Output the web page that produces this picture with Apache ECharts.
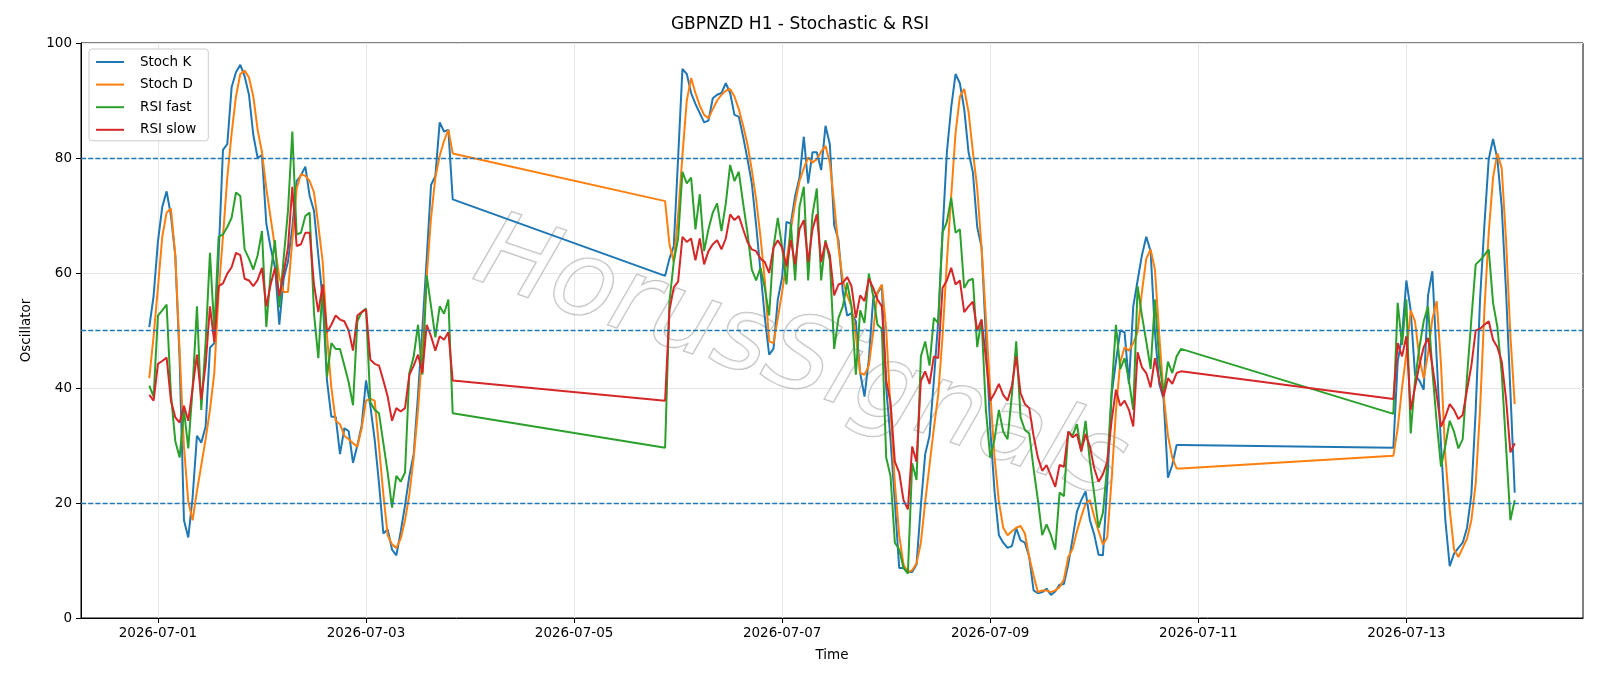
<!DOCTYPE html>
<html>
<head>
<meta charset="utf-8">
<title>GBPNZD H1 - Stochastic & RSI</title>
<script src="https://cdn.jsdelivr.net/npm/echarts@6/dist/echarts.min.js"></script>
<style>
  html, body { margin: 0; padding: 0; background: #fff; }
  #chart { width: 1600px; height: 686px; }
</style>
</head>
<body>
<div id="chart"></div>
<script>
// hourly bars, three trading blocks (weekend gaps between them)
const blockStarts = ['2026-06-30T22:00', '2026-07-05T21:00', '2026-07-12T21:00'];
const dayTicks = ['2026-07-01', '2026-07-03', '2026-07-05', '2026-07-07', '2026-07-09', '2026-07-11', '2026-07-13'];
const levels = [20, 50, 80];

const stochK1 = [50.6, 56, 65.5, 71.5, 74.2, 70, 63, 45, 17, 14, 21, 31.7, 30.5, 33.3, 47, 47.8, 63, 81.4, 82.4, 92.3,
  94.9, 96.2, 94.2, 91, 84, 80, 80.5, 68.6, 64.4, 61, 51, 59, 62, 68, 76, 77, 78.5, 73.4, 70.8, 63,
  55.4, 41.3, 35, 35, 28.5, 33, 32.5, 27, 30, 33.5, 41.3, 36.9, 31, 23.4, 14.7, 15.4, 11.9, 10.9, 15, 19.6,
  24.7, 28.5, 38.8, 50.3, 62.5, 75.3, 76.9, 86.2, 84.6, 84.9, 72.8];
const stochK2 = [59.5, 62.5, 64.7, 80, 95.5, 94.6, 91.3, 89.4, 87.8, 86.2,
  86.5, 90.4, 91, 91.3, 93, 91.3, 87.5, 87.2, 83.7, 79.8,
  75.6, 68.3, 60.3, 52.3, 45.8, 46.8, 55.4, 59.3, 68.9, 68.6,
  73.4, 76.6, 83.7, 75.6, 81, 81, 77.9, 85.6, 82.4, 68.3,
  65.7, 56.7, 52.6, 53, 51.6, 42.6, 38.5, 45, 55.5, 56.5,
  57.8, 40.1, 31.1, 20.2, 8.7, 8.7, 8, 8, 9.3, 19.6,
  28.5, 31.7, 41.3, 51.6, 67, 81, 88.8, 94.6, 93, 88.5,
  81, 77.5, 68, 64.5, 49, 33, 22, 14.4, 13.1, 12.2,
  12.5, 15.6, 13.5, 13.1, 10.6, 4.8, 4.3, 4.5, 5.1, 4.0,
  4.6, 5.8, 5.9, 9.3, 13.8, 18.5, 20.5, 22, 17, 14.5,
  11, 10.9, 23.4, 38.8, 44.6, 50, 49.7, 40.7, 54.2, 58.7,
  63.1, 66.3, 63.8, 49.7, 40.7, 38.1, 24.4, 26.6, 30.1, 30.1];
const stochK3 = [29.6, 44.6, 49, 58.7, 53.5, 42.3, 41.3, 39.7, 56.1, 60.3, 45, 30, 17, 9, 11.2,
  12.2, 13.1, 15.7, 21.5, 36.2, 55.4, 68.3, 79.8, 83.3, 79.8, 71.5, 56.7, 39.4, 21.8];

const stochD1 = [41.7, 49, 57.5, 66.3, 70.5, 71.2, 63.1, 46.5, 29.8, 20.2, 17, 22.1, 26.6, 31.1, 36.2, 42.6, 56.7, 66.3, 76.6, 84.3,
  90.7, 94.6, 95.2, 94, 90.7, 84.9, 81, 74.7, 69.6, 64.4, 59.3, 56.7, 56.7, 65.7, 74.7, 77.2, 76.9, 76, 74, 68.3,
  62, 49.1, 40.1, 34.3, 33.7, 31.7, 31.1, 30.4, 29.8, 33, 37.8, 38.1, 37.8, 29.8, 21.5, 14.4, 12.8, 12.2, 13.8, 17,
  21.5, 27.9, 36.2, 46.5, 59.3, 69.6, 76.6, 80.4, 83, 84.9, 80.8];
const stochD2 = [72.5, 65, 61.9, 70, 80.5, 90, 93.9, 91.3, 89.1, 87.5,
  86.9, 88.5, 90, 91, 91.7, 92, 90.7, 88.5, 85.6, 82.4,
  77.9, 72.8, 66.3, 58.7, 48.1, 47.8, 52.2, 56.7, 61.9, 67.6,
  72.1, 76, 78.2, 80.1, 79.2, 79.8, 81.1, 82.1, 79.2, 72.1,
  64.4, 58.7, 56.1, 54.2, 49.1, 42.6, 42.3, 43.9, 49.7, 56.7,
  58, 50.3, 36.2, 23.4, 14.4, 9.3, 8, 8.3, 9.5, 13.1,
  20.2, 26.6, 33, 38.8, 49, 61.9, 73.4, 84.3, 90.7, 92,
  88, 81.1, 74.7, 64.4, 52.2, 39.4, 27.9, 20.2, 15.7, 14.4,
  15.1, 15.7, 16, 14.7, 10.6, 7.4, 4.5, 4.8, 4.8, 4.5,
  4.8, 5.4, 6.7, 10.6, 12, 15.1, 17.6, 19.9, 20.5, 17.6,
  15.1, 12.8, 14, 24, 36, 44.5, 47.1, 46.5, 47.8, 49.7,
  56.7, 62.5, 64.1, 60.6, 49.1, 38.8, 31.7, 27.9, 26, 26];
const stochD3 = [28.2, 33, 40, 46, 53.5, 51.6, 45.2, 41.7, 46, 52, 55.1, 44, 28, 18.9, 11.9,
  10.6, 12.2, 13.8, 17, 23.4, 36.2, 53.5, 67, 76.6, 80.8, 78.2, 65.7, 49.1, 37.2];

const rsiFast1 = [40.4, 38.5, 52.6, 53.5, 54.5, 38.8, 30.8, 27.9, 36.2, 29.5, 40, 54.2, 36.2, 48, 63.5, 50, 66.3, 66.7, 68, 69.6,
  74, 73.4, 64.1, 62.5, 60.6, 63.1, 67.3, 50.6, 60, 65.7, 54, 62.5, 70.8, 84.6, 66.7, 67, 69.9, 70.5, 53, 45.2,
  58, 42, 47.8, 46.8, 46.8, 43.9, 41, 37, 51.6, 53.2, 53.8, 37.5, 36.2, 35.6, 30.4, 25.3, 19.2, 24.7, 23.7, 25.3,
  42.6, 45.5, 51, 42.3, 59.6, 54.2, 48.8, 54.2, 52.9, 55.4, 35.6];
const rsiFast2 = [29.6, 55, 62, 66, 77.6, 75.6, 76.6, 67.6, 73.7, 63.8,
  67.6, 70.5, 72.1, 67.3, 72.1, 78.8, 76, 77.6, 72.1, 67,
  60.6, 58.7, 60.9, 57.4, 52.6, 64.4, 69.6, 64.4, 58, 68.6,
  58.7, 71.5, 75, 58.7, 70.2, 74.7, 58.7, 65.7, 62.2, 46.8,
  52.2, 54.2, 58.3, 54.2, 42.3, 53.5, 51.3, 59.9, 56, 51,
  50.3, 27.9, 24.7, 13.1, 11.9, 8.7, 7.7, 26.9, 24, 45.5,
  48.1, 43.9, 52.2, 51.3, 67, 68.9, 73.1, 67, 67.6, 57.4,
  58.7, 59, 47.1, 51.9, 36.2, 27.9, 31.1, 36.2, 32.4, 31.1,
  38.8, 48.1, 34.9, 32.7, 32.1, 26, 20.5, 14.4, 16.3, 14.4,
  11.9, 21.8, 21.2, 32.4, 31.7, 33.7, 29, 34.3, 27.2, 21.5,
  15.7, 18.3, 26.6, 39.4, 51, 43.3, 45.2, 41.3, 36.2, 57.7,
  52.6, 48.1, 43.3, 55.4, 44.6, 38.8, 44.6, 42.6, 45.5, 46.8];
const rsiFast3 = [35.5, 54.8, 47.5, 55.4, 32.1, 41.3, 47, 51.6, 54.2, 43, 34, 26.3, 30, 34.3, 32.4,
  29.5, 31.1, 42, 52, 61.5, 62.2, 63.1, 64.1, 54.8, 50.6, 42.6, 29.8, 17, 20.5];

const rsiSlow1 = [38.8, 37.8, 44.2, 44.7, 45.3, 37.8, 34.9, 34, 36.9, 34.3, 40, 45.8, 38, 44, 54.2, 48, 57.7, 58.2, 59.9, 61,
  63.5, 63.1, 59, 58.7, 57.7, 58.8, 60.9, 54.2, 58, 60.9, 56, 60, 64.4, 75, 64.7, 65, 67, 67, 58, 53.2,
  58, 49.7, 51, 52.6, 51.9, 51.6, 50, 46.5, 52.6, 53.2, 53.7, 44.9, 44.2, 43.9, 41.3, 38.5, 34.3, 36.5, 35.9, 36.5,
  42.3, 43.9, 45.8, 42.6, 51, 49, 46.5, 49, 48.4, 49.7, 41.3];
const rsiSlow2 = [37.8, 53.5, 57.5, 58.5, 66.3, 65.4, 66, 62.2, 66, 61.5,
  63.8, 65, 65.7, 64.1, 66, 70.2, 69.2, 69.9, 67.6, 65.4,
  64.1, 63.8, 62.5, 61.9, 60, 64.4, 65.7, 64.4, 61.2, 65.7,
  61.5, 67.6, 69.2, 61.9, 67.6, 70.2, 61.9, 65.4, 63.1, 56.1,
  58, 58.3, 59.3, 57.7, 52.2, 56.1, 55.1, 59, 57.4, 55.4,
  54.2, 41.3, 37.5, 27.2, 25.3, 20.5, 18.9, 29.8, 27.2, 41.3,
  42.9, 40.7, 45.5, 45.2, 57.4, 58.7, 60.9, 58, 58.7, 53.2,
  54.2, 55, 50, 51.9, 45.2, 37.8, 39.1, 40.7, 38.8, 37.8,
  40.4, 45.5, 39.1, 37.2, 36.5, 31.7, 27.9, 25.6, 26.6, 24.7,
  22.8, 26.6, 26.3, 32.4, 31.4, 32, 29, 32, 29.8, 26,
  23.7, 25, 27.2, 34.3, 39.7, 36.9, 37.8, 36.2, 33.3, 46.2,
  43.6, 42.6, 40.1, 45.2, 41.3, 38.5, 41.7, 40.7, 42.6, 42.9];
const rsiSlow3 = [38.1, 47.8, 45.5, 49, 36.2, 40.1, 44, 47.1, 48.7, 43.9, 38.8, 33.3, 35, 37.2, 36.2,
  34.6, 35.3, 39.7, 43.9, 50, 50.3, 51, 51.6, 48.4, 47.1, 44.6, 38.1, 28.8, 30.4];

const HOUR = 3600 * 1000;
function toPairs(blocks) {
  let out = [];
  blocks.forEach(function (vals, i) {
    const t0 = new Date(blockStarts[i]).getTime();
    out = out.concat(vals.map(function (v, j) { return [t0 + j * HOUR, v]; }));
  });
  return out;
}
function pad(n) { return n < 10 ? '0' + n : '' + n; }
function dayLabel(v) {
  const d = new Date(v);
  return d.getFullYear() + '-' + pad(d.getMonth() + 1) + '-' + pad(d.getDate());
}

const tickTimes = dayTicks.map(function (s) { return new Date(s + 'T00:00').getTime(); });
const xMin = new Date('2026-06-30T06:15').getTime();
const xMax = new Date('2026-07-14T16:45').getTime();

const font = 'DejaVu Sans';
const colors = ['#1f77b4', '#ff7f0e', '#2ca02c', '#d62728'];

function lineSeries(name, data, color) {
  return {
    name: name,
    type: 'line',
    data: data,
    showSymbol: false,
    symbol: 'none',
    lineStyle: { width: 2, color: color },
    itemStyle: { color: color },
    z: 3
  };
}

const series = [
  lineSeries('Stoch K', toPairs([stochK1, stochK2, stochK3]), colors[0]),
  lineSeries('Stoch D', toPairs([stochD1, stochD2, stochD3]), colors[1]),
  lineSeries('RSI fast', toPairs([rsiFast1, rsiFast2, rsiFast3]), colors[2]),
  lineSeries('RSI slow', toPairs([rsiSlow1, rsiSlow2, rsiSlow3]), colors[3])
];
series[3].markLine = {
  silent: true,
  symbol: 'none',
  label: { show: false },
  lineStyle: { color: '#1f77b4', width: 1.4, type: [5, 2.2] },
  data: levels.map(function (l) { return { yAxis: l }; })
};

const chart = echarts.init(document.getElementById('chart'));
chart.setOption({
  animation: false,
  backgroundColor: '#ffffff',
  color: colors,
  title: {
    text: 'GBPNZD H1 - Stochastic & RSI',
    left: 'center',
    top: 16,
    padding: 0,
    textStyle: { fontFamily: font, fontSize: 17, fontWeight: 'normal', color: '#000' }
  },
  grid: {
    left: 81, right: 17, top: 43, bottom: 68,
    show: true, borderColor: '#000', borderWidth: 1, backgroundColor: 'transparent'
  },
  legend: {
    orient: 'vertical',
    left: 89,
    top: 49,
    padding: [6, 12, 4, 7],
    itemWidth: 28,
    itemHeight: 2,
    itemGap: 8.6,
    icon: 'rect',
    borderColor: '#cccccc',
    borderWidth: 1,
    borderRadius: 3,
    backgroundColor: 'rgba(255,255,255,0.8)',
    textStyle: { fontFamily: font, fontSize: 13.5, color: '#000', lineHeight: 14, padding: [0, 0, 0, 11] },
    data: ['Stoch K', 'Stoch D', 'RSI fast', 'RSI slow']
  },
  xAxis: {
    type: 'value',
    min: xMin,
    max: xMax,
    scale: true,
    name: 'Time',
    nameLocation: 'middle',
    nameGap: 30,
    nameTextStyle: { fontFamily: font, fontSize: 13.5, color: '#000' },
    axisLine: { show: true, onZero: false, lineStyle: { color: '#000', width: 1 } },
    axisTick: { show: true, length: 5, lineStyle: { color: '#000' }, customValues: tickTimes },
    axisLabel: {
      customValues: tickTimes,
      formatter: dayLabel,
      margin: 8,
      fontFamily: font, fontSize: 13.5, color: '#000',
      hideOverlap: false
    },
    splitLine: { show: true, lineStyle: { color: '#e6e6e6', width: 1 } }
  },
  yAxis: {
    type: 'value',
    min: 0,
    max: 100,
    interval: 20,
    name: 'Oscillator',
    nameLocation: 'middle',
    nameGap: 48,
    nameRotate: 90,
    nameTextStyle: { fontFamily: font, fontSize: 13.5, color: '#000' },
    axisLine: { show: true, lineStyle: { color: '#000', width: 1 } },
    axisTick: { show: true, length: 5, lineStyle: { color: '#000' } },
    axisLabel: { margin: 9, fontFamily: font, fontSize: 13.5, color: '#000' },
    splitLine: { show: true, lineStyle: { color: '#e6e6e6', width: 1 } }
  },
  graphic: [{
    type: 'text',
    x: 800,
    y: 362,
    rotation: -0.33,
    z: 1,
    silent: true,
    style: {
      text: 'HorusSignals',
      font: 'italic 104px "DejaVu Sans"',
      align: 'center',
      verticalAlign: 'middle',
      fill: 'rgba(255,255,255,0.55)',
      stroke: 'rgba(160,160,160,0.7)',
      lineWidth: 1.6,
      shadowColor: 'rgba(0,0,0,0.25)',
      shadowBlur: 3,
      shadowOffsetX: 4,
      shadowOffsetY: 4
    }
  }],
  series: series
});
</script>
</body>
</html>
